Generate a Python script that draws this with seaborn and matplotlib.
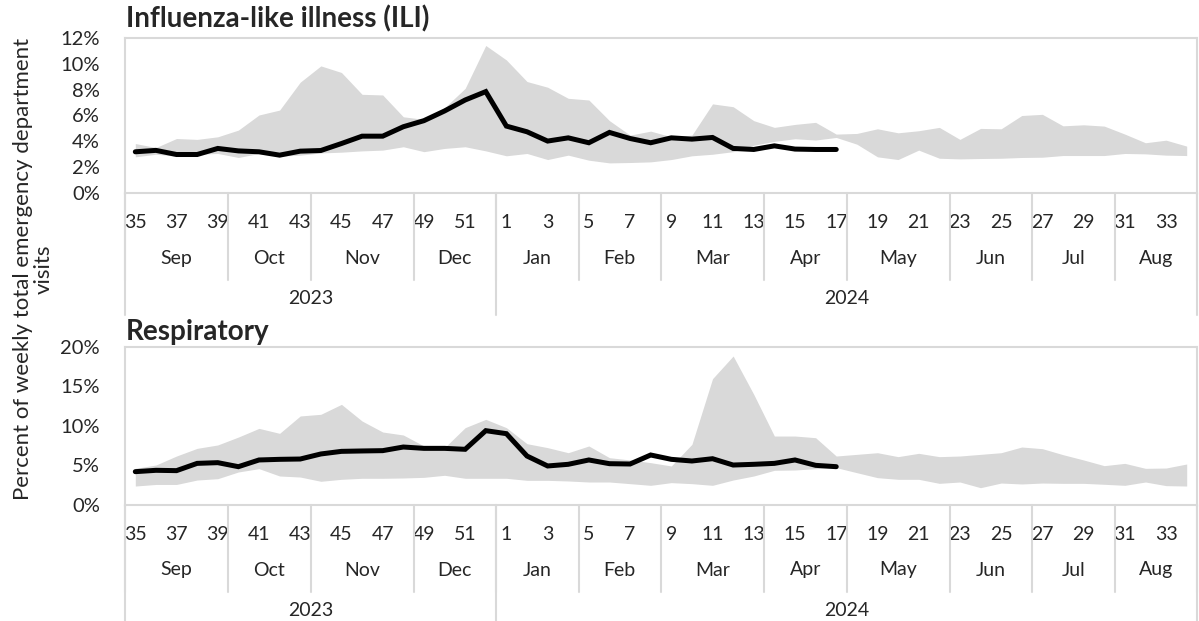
import matplotlib
matplotlib.use('Agg')
import matplotlib.pyplot as plt
import matplotlib.ticker as mticker
import numpy as np
import pandas as pd
import seaborn as sns

# epi weeks of the 2023-24 season
weeks = list(range(35, 53)) + list(range(1, 35))
months = ['Sep', 'Oct', 'Nov', 'Dec', 'Jan', 'Feb', 'Mar', 'Apr', 'May', 'Jun', 'Jul', 'Aug']
month_weeks = [5, 4, 5, 4, 4, 4, 5, 4, 5, 4, 4, 4]
years = ['2023', '2024']
year_weeks = [18, 34]

# influenza-like illness, percent of ED visits
ili_current = [3.19, 3.3, 2.98, 2.98, 3.45, 3.26, 3.19, 2.93, 3.24, 3.29, 3.83, 4.4, 4.4, 5.13, 5.6, 6.35, 7.2,
               7.85,
               5.18, 4.74, 4.02, 4.27, 3.89, 4.69, 4.22, 3.89, 4.27, 4.17, 4.3, 3.45, 3.37, 3.65, 3.4, 3.37, 3.37]
ili_max = [3.83, 3.52, 4.22, 4.15, 4.35, 4.87, 6.04, 6.42, 8.58, 9.84, 9.33, 7.64, 7.59, 5.9, 5.7, 6.6, 8.1,
           11.42,
           10.3, 8.63, 8.19, 7.33, 7.2, 5.6, 4.48, 4.79, 4.35, 4.48, 6.9, 6.68, 5.6, 5.08, 5.31, 5.47, 4.56,
           4.61, 4.97, 4.66, 4.82, 5.08, 4.15, 5.0, 4.97, 6.0, 6.09, 5.2, 5.28, 5.18, 4.56, 3.89, 4.09, 3.63]
ili_min = [2.8, 3.0, 2.85, 3.0, 3.06, 2.75, 3.06, 2.85, 2.93, 3.1, 3.16, 3.26, 3.32, 3.58, 3.2, 3.45, 3.58,
           3.26,
           2.88, 3.06, 2.59, 2.93, 2.54, 2.33, 2.36, 2.41, 2.59, 2.88, 3.0, 3.2, 3.7, 4.0, 4.2, 4.1, 4.3,
           3.78, 2.8, 2.59, 3.32, 2.69, 2.64, 2.67, 2.69, 2.75, 2.77, 2.9, 2.9, 2.9, 3.06, 3.03, 2.93, 2.9]

# respiratory, percent of ED visits
resp_current = [4.22, 4.39, 4.35, 5.27, 5.36, 4.85, 5.7, 5.78, 5.82, 6.46, 6.79, 6.84, 6.88, 7.34, 7.17, 7.17, 7.05,
                9.41,
                9.03, 6.2, 4.94, 5.15, 5.7, 5.23, 5.19, 6.33, 5.78, 5.57, 5.86, 5.06, 5.15, 5.27, 5.7, 5.02, 4.85]
resp_max = [4.64, 5.06, 6.2, 7.17, 7.6, 8.6, 9.7, 9.07, 11.27, 11.48, 12.74, 10.63, 9.24, 8.86, 7.47, 7.26, 9.79,
            10.84,
            9.79, 7.76, 7.26, 6.62, 7.47, 5.99, 5.7, 5.36, 4.94, 7.68, 15.99, 18.86, 14.0, 8.73, 8.73, 8.52, 6.2,
            6.41, 6.62, 6.12, 6.54, 6.12, 6.2, 6.41, 6.62, 7.34, 7.13, 6.37, 5.7, 4.98, 5.27, 4.64, 4.68, 5.19]
resp_min = [2.4, 2.6, 2.6, 3.16, 3.33, 4.18, 4.6, 3.67, 3.54, 3.0, 3.25, 3.38, 3.38, 3.42, 3.5, 3.76, 3.38,
            3.38,
            3.38, 3.12, 3.12, 3.04, 2.91, 2.91, 2.7, 2.49, 2.83, 2.7, 2.49, 3.16, 3.67, 4.39, 4.43, 4.6, 4.73,
            4.09, 3.46, 3.25, 3.25, 2.74, 2.91, 2.19, 2.78, 2.66, 2.78, 2.74, 2.74, 2.62, 2.49, 2.91, 2.45, 2.4]

sns.set_style('white')
plt.rcParams['font.family'] = ['Lato', 'DejaVu Sans']

W, H = 1199, 621
GRID = '#d9d9d9'
BAND = '#d9d9d9'

fig = plt.figure(figsize=(W / 100, H / 100), dpi=100)


def add_panel(top_px, bottom_px, title, title_px, current, lo, hi, ymax, ystep):
    ax = fig.add_axes([125 / W, 1 - bottom_px / H, (1197 - 125) / W, (bottom_px - top_px) / H])
    idx = np.arange(len(weeks))
    ax.fill_between(idx, lo, hi, color=BAND, lw=0)
    df = pd.DataFrame({'idx': idx[:len(current)], 'value': current})
    sns.lineplot(data=df, x='idx', y='value', color='black', lw=3.6, ax=ax,
                 solid_capstyle='round', solid_joinstyle='miter')
    ax.set_xlim(-0.5, len(weeks) - 0.5)
    ax.set_ylim(0, ymax)
    ax.set_yticks(np.arange(0, ymax + 0.1, ystep))
    ax.yaxis.set_major_formatter(mticker.FuncFormatter(lambda v, p: f'{v:.0f}%'))
    ax.tick_params(axis='y', length=0, pad=18, labelsize=14.5)
    odd = [i for i, w in enumerate(weeks) if w % 2 == 1]
    ax.set_xticks(odd)
    ax.set_xticklabels([str(weeks[i]) for i in odd])
    ax.tick_params(axis='x', length=0, pad=15, labelsize=14)
    ax.set_xlabel('')
    ax.set_ylabel('')
    for s in ax.spines.values():
        s.set_color(GRID)
        s.set_linewidth(1.5)

    h = bottom_px - top_px
    trans = ax.get_xaxis_transform()

    def fy(px):
        return -px / h

    # month row
    start = 0
    bounds = [-0.5]
    for m, n in zip(months, month_weeks):
        ax.text(start + (n - 1) / 2, fy(65), m, transform=trans, ha='center', va='center', fontsize=14)
        start += n
        bounds.append(start - 0.5)
    for b in bounds:
        ax.plot([b, b], [0, fy(87)], transform=trans, color=GRID, lw=1.5, clip_on=False)
    # year row
    start = 0
    ybounds = [-0.5]
    for y, n in zip(years, year_weeks):
        ax.text(start + (n - 1) / 2, fy(105), y, transform=trans, ha='center', va='center', fontsize=14)
        start += n
        ybounds.append(start - 0.5)
    for b in ybounds:
        ax.plot([b, b], [0, fy(122)], transform=trans, color=GRID, lw=1.5, clip_on=False)

    fig.text(126 / W, 1 - title_px / H, title, fontsize=20, fontweight='bold',
             ha='left', va='center')
    return ax


add_panel(38, 193, 'Influenza-like illness (ILI)', 19, ili_current, ili_min, ili_max, 12, 2)
add_panel(347, 505, 'Respiratory', 332, resp_current, resp_min, resp_max, 20, 5)

fig.text(33 / W, 1 - 269 / H, 'Percent of weekly total emergency department\nvisits',
         rotation=90, ha='center', va='center', fontsize=16, linespacing=1.05)

fig.savefig('out.png', dpi=100)
